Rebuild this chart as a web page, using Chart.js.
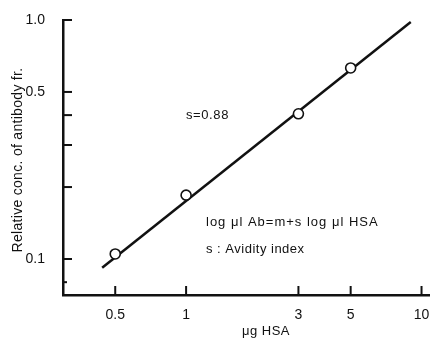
<!DOCTYPE html>
<html>
<head>
<meta charset="utf-8">
<script src="https://cdn.jsdelivr.net/npm/chart.js@4.4.1/dist/chart.umd.min.js"></script>
<style>
html,body{margin:0;padding:0;background:#fff;}
#wrap{width:436px;height:341px;position:relative;}
</style>
</head>
<body>
<div id="wrap"><canvas id="myChart"></canvas></div>
<script>
// measured points (ug HSA vs relative conc.)
var doseHSA = [0.5, 1, 3, 5];
var relConc = [0.105, 0.185, 0.405, 0.63];
// fitted line ends
var lineX = [0.44, 9.0];
var lineY = [0.092, 0.98];

var xTicks = [0.5, 1, 3, 5, 10];
var xLabels = ["0.5", "1", "3", "5", "10"];
var yTicks = [0.1, 0.2, 0.3, 0.4, 0.5, 1.0];
var yLabels = ["0.1", "", "", "", "0.5", "1.0"];
var yMinor = [0.08];

var fuente = "'Liberation Sans', Arial, sans-serif";
var tinta = "#111";

function pares(xs, ys){
	var out = new Array();
	for(var i = 0;i<xs.length;i++){
		out.push({x: xs[i], y: ys[i]});
	}
	return out;
}

var marcasYTextos = {
	id: 'marcasYTextos',
	afterDraw: function(chart){
		var ctx = chart.ctx;
		var xs = chart.scales.x, ys = chart.scales.y;
		var area = chart.chartArea;
		ctx.save();
		ctx.strokeStyle = tinta;
		ctx.lineWidth = 2;
		// inward ticks
		for(var i = 0;i<yTicks.length;i++){
			var py = ys.getPixelForValue(yTicks[i]);
			ctx.beginPath(); ctx.moveTo(area.left, py); ctx.lineTo(area.left + 9, py); ctx.stroke();
		}
		for(var i = 0;i<yMinor.length;i++){
			var py = ys.getPixelForValue(yMinor[i]);
			ctx.beginPath(); ctx.moveTo(area.left, py); ctx.lineTo(area.left + 4, py); ctx.stroke();
		}
		for(var i = 0;i<xTicks.length;i++){
			var px = xs.getPixelForValue(xTicks[i]);
			ctx.beginPath(); ctx.moveTo(px, area.bottom); ctx.lineTo(px, area.bottom - 9); ctx.stroke();
		}
		// texts
		ctx.fillStyle = tinta;
		ctx.textBaseline = 'middle';
		ctx.textAlign = 'left';
		ctx.font = "13px " + fuente;
		ctx.letterSpacing = "0.6px";
		ctx.fillText("s=0.88", 186, 115);
		ctx.letterSpacing = "1px";
		ctx.fillText("log \u03bcl Ab=m+s log \u03bcl HSA", 206, 222);
		ctx.letterSpacing = "0.5px";
		ctx.fillText("s : Avidity index", 206, 249);
		ctx.letterSpacing = "0.5px";
		ctx.textAlign = 'center';
		ctx.fillText("\u03bcg HSA", 266, 331);
		ctx.translate(18, 160);
		ctx.rotate(-Math.PI/2);
		ctx.font = "14px " + fuente;
		ctx.letterSpacing = "0.3px";
		ctx.fillText("Relative conc. of antibody fr.", 0, 0);
		ctx.restore();
	}
};

new Chart(document.getElementById("myChart"), {
	type: 'scatter',
	data: {
		datasets: [
			{
				data: pares(doseHSA, relConc),
				showLine: false,
				pointRadius: 5,
				pointBackgroundColor: "#fff",
				pointBorderColor: tinta,
				pointBorderWidth: 1.6,
				order: 0
			},
			{
				data: pares(lineX, lineY),
				showLine: true,
				borderColor: tinta,
				borderWidth: 2.5,
				pointRadius: 0,
				fill: false,
				order: 1
			}
		]
	},
	options: {
		responsive: true,
		maintainAspectRatio: false,
		animation: false,
		layout: { padding: { top: 20, left: 0, right: 0, bottom: 0 } },
		plugins: { legend: { display: false }, tooltip: { enabled: false } },
		scales: {
			x: {
				type: 'logarithmic',
				min: 0.3,
				max: 10.8,
				grid: { display: false },
				border: { display: true, color: tinta, width: 2.5 },
				afterBuildTicks: function(scale){
					scale.ticks = xTicks.map(function(v){ return {value: v}; });
				},
				afterFit: function(scale){
					scale.height = 46;
				},
				ticks: {
					padding: 4,
					color: tinta,
					font: { family: fuente, size: 14 },
					maxRotation: 0,
					autoSkip: false,
					callback: function(v){ var k = xTicks.indexOf(v); return k >= 0 ? xLabels[k] : ""; }
				}
			},
			y: {
				type: 'logarithmic',
				min: 0.0707,
				max: 1.0,
				grid: { display: false },
				border: { display: true, color: tinta, width: 2.5 },
				afterBuildTicks: function(scale){
					scale.ticks = yTicks.map(function(v){ return {value: v}; });
				},
				afterFit: function(scale){
					scale.width = 63;
				},
				ticks: {
					padding: 10,
					color: tinta,
					font: { family: fuente, size: 14 },
					autoSkip: false,
					callback: function(v){ var k = yTicks.indexOf(v); return k >= 0 ? yLabels[k] : ""; }
				}
			}
		}
	},
	plugins: [marcasYTextos]
});
</script>
</body>
</html>
